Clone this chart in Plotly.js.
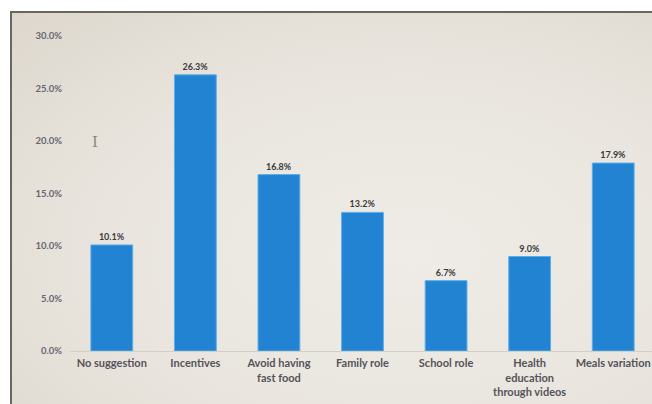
<!DOCTYPE html>
<html>
<head>
<meta charset="utf-8">
<script src="https://cdn.plot.ly/plotly-3.0.1.min.js"></script>
<style>
  html, body { margin: 0; padding: 0; background: #ffffff; overflow: hidden; width: 652px; height: 404px; }
  #frame {
    position: absolute; left: 10px; top: 11px; width: 660px; height: 400px;
    border-left: 2px solid #6a6660; border-top: 2px solid #6a6660;
    background: radial-gradient(ellipse at 60% 60%, #efece7 0%, #e9e5de 55%, #ddd7cd 100%);
  }
  #chart { width: 660px; height: 400px; }
</style>
</head>
<body>
<div id="frame"><div id="chart"></div></div>
<script>
const categories = ["No suggestion", "Incentives", "Avoid having<br>fast food", "Family role", "School role", "Health<br>education<br>through videos", "Meals variation"];
const values = [10.1, 26.3, 16.8, 13.2, 6.7, 9.0, 17.9];
const yTicks = [0, 5, 10, 15, 20, 25, 30];
const yTickLabels = ["0.0%", "5.0%", "10.0%", "15.0%", "20.0%", "25.0%", "30.0%"];

const trace = {
  type: "bar",
  x: categories,
  y: values,
  marker: { color: "#2183d2", line: { color: "#5aaee8", width: 1 } },
  texttemplate: "%{y:.1f}%",
  textposition: "outside",
  textfont: { family: "Lato, 'Open Sans', sans-serif", size: 9, color: "#3a3a3a", weight: "bold" },
  cliponaxis: false,
  hoverinfo: "none"
};

const layout = {
  width: 660, height: 400,
  margin: { l: 58, r: 17, t: 23, b: 62 },
  paper_bgcolor: "rgba(0,0,0,0)",
  plot_bgcolor: "rgba(0,0,0,0)",
  bargap: 0.5,
  showlegend: false,
  font: { family: "Lato, 'Open Sans', sans-serif" },
  xaxis: {
    type: "category",
    showgrid: false,
    zeroline: false,
    showline: true, linecolor: "#d4cfc6", linewidth: 1,
    ticks: "",
    ticklabelstandoff: 2,
    tickfont: { family: "Lato, 'Open Sans', sans-serif", size: 11, color: "#55535a", weight: "bold" },
    tickangle: 0
  },
  yaxis: {
    range: [0, 30],
    tickvals: yTicks,
    ticktext: yTickLabels,
    showgrid: false,
    zeroline: false,
    showline: false,
    ticks: "",
    ticklabelstandoff: 7,
    tickfont: { family: "Lato, 'Open Sans', sans-serif", size: 9.5, color: "#676570", weight: "bold" }
  },
  annotations: [
    { xref: "paper", yref: "paper", x: 0.035, y: 0.70, text: "I", showarrow: false,
      font: { family: "DejaVu Serif, serif", size: 15, color: "#8a8680" } }
  ]
};

Plotly.newPlot("chart", [trace], layout, { staticPlot: true, displayModeBar: false });
</script>
</body>
</html>
